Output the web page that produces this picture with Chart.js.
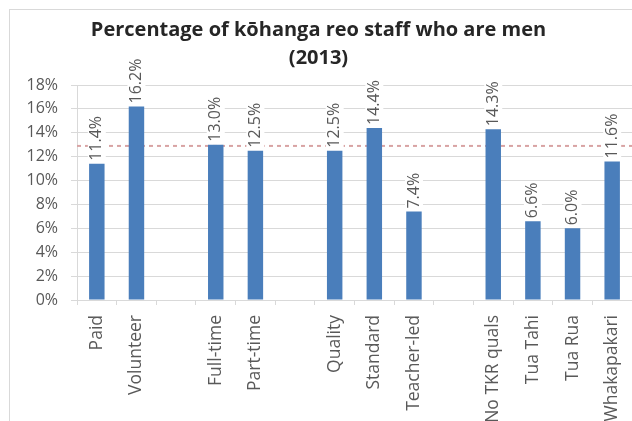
<!DOCTYPE html>
<html>
<head>
<meta charset="utf-8">
<script src="https://cdn.jsdelivr.net/npm/chart.js@4.4.0/dist/chart.umd.min.js"></script>
<style>
  html, body { margin: 0; padding: 0; background: #fff; overflow: hidden; }
  .frame { position: absolute; left: 9px; top: 9px; width: 700px; height: 500px; border: 1px solid #d9d9d9; }
  .wrap { position: absolute; left: 0; top: 0; width: 632px; height: 421px; }
</style>
</head>
<body>
<div class="frame"></div>
<div class="wrap"><canvas id="chart" width="632" height="421"></canvas></div>
<script>
// Categories with blank slots separating the groups
const categories = ['Paid', 'Volunteer', '', 'Full-time', 'Part-time', '', 'Quality', 'Standard', 'Teacher-led', '', 'No TKR quals', 'Tua Tahi', 'Tua Rua', 'Whakapakari'];
const menPercent = [11.4, 16.2, null, 13.0, 12.5, null, 12.5, 14.4, 7.4, null, 14.3, 6.6, 6.0, 11.6];
const overallAverage = 12.9;
const yTicks = [0, 2, 4, 6, 8, 10, 12, 14, 16, 18];

const textColor = '#595959';
const fontFamily = '"Open Sans", sans-serif';

// Rotated value labels above each bar, on a white backing
const barLabels = {
  id: 'barLabels',
  afterDatasetsDraw(chart) {
    const { ctx } = chart;
    const meta = chart.getDatasetMeta(0);
    ctx.save();
    ctx.font = '16px ' + fontFamily;
    ctx.textAlign = 'left';
    ctx.textBaseline = 'middle';
    meta.data.forEach((bar, i) => {
      const v = menPercent[i];
      if (v == null) return;
      const txt = v.toFixed(1) + '%';
      const w = ctx.measureText(txt).width;
      ctx.save();
      ctx.translate(bar.x, bar.y - 3);
      ctx.rotate(-Math.PI / 2);
      ctx.fillStyle = '#ffffff';
      ctx.fillRect(-1, -9, w + 2, 18);
      ctx.fillStyle = textColor;
      ctx.fillText(txt, 0, 0);
      ctx.restore();
    });
    ctx.restore();
  }
};

// Dashed average line across the full plot width, behind the bars
const averageLine = {
  id: 'averageLine',
  beforeDatasetsDraw(chart) {
    const { ctx, chartArea } = chart;
    const y = chart.scales.y.getPixelForValue(overallAverage);
    ctx.save();
    ctx.strokeStyle = '#d8a3a3';
    ctx.lineWidth = 2;
    ctx.setLineDash([4, 4]);
    ctx.beginPath();
    ctx.moveTo(chartArea.left, y);
    ctx.lineTo(chartArea.right, y);
    ctx.stroke();
    ctx.restore();
  }
};

new Chart(document.getElementById('chart'), {
  type: 'bar',
  data: {
    labels: categories,
    datasets: [{
      data: menPercent,
      backgroundColor: '#4a7ebb',
      barPercentage: 0.39,
      categoryPercentage: 1.0
    }]
  },
  options: {
    responsive: false,
    animation: false,
    layout: { padding: { left: 0, top: 0, bottom: 0, right: -5 } },
    plugins: {
      legend: { display: false },
      tooltip: { enabled: false },
      title: {
        display: true,
        text: ['Percentage of kōhanga reo staff who are men', '(2013)'],
        color: '#262626',
        font: { family: fontFamily, size: 20, weight: 'bold', lineHeight: '28px' },
        padding: { top: 16, bottom: 13 }
      }
    },
    scales: {
      x: {
        offset: true,
        grid: {
          display: true,
          drawOnChartArea: false,
          drawTicks: true,
          tickLength: 5,
          offset: true,
          color: '#d9d9d9'
        },
        border: { color: '#d9d9d9' },
        ticks: {
          autoSkip: false,
          maxRotation: 90,
          minRotation: 90,
          color: textColor,
          font: { family: fontFamily, size: 17.5 },
          padding: 10
        },
        afterFit(scale) {
          scale.height = 121;
          scale.paddingLeft = 0;
          scale.paddingRight = 0;
        }
      },
      y: {
        min: 0,
        max: 18,
        afterBuildTicks(scale) { scale.ticks = yTicks.map(v => ({ value: v })); },
        grid: { color: '#d9d9d9', tickLength: 6 },
        border: { color: '#d9d9d9' },
        ticks: {
          color: textColor,
          font: { family: fontFamily, size: 16 },
          padding: 13,
          callback: v => v + '%'
        },
        afterFit(scale) { scale.width = 77; }
      }
    }
  },
  plugins: [averageLine, barLabels]
});
</script>
</body>
</html>
